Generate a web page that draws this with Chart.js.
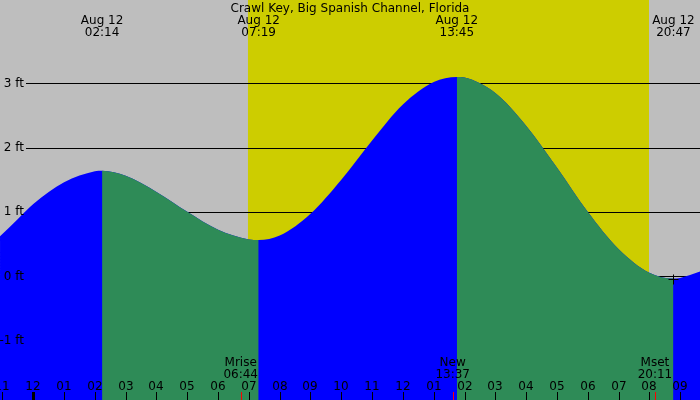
<!DOCTYPE html>
<html>
<head>
<meta charset="utf-8">
<script src="https://cdn.jsdelivr.net/npm/chart.js@4.4.1/dist/chart.umd.min.js"></script>
<style>
  html, body { margin: 0; padding: 0; background: #bebebe; }
  #tide { display: block; }
</style>
</head>
<body>
<canvas id="tide" width="700" height="400"></canvas>
<script>
// tide chart - Crawl Key, Big Spanish Channel, Florida (Aug 12)

const stationName = 'Crawl Key, Big Spanish Channel, Florida';
const dayLabel = 'Aug 12';

// tide level (ft), hours since midnight
const tideHours = [-1.08, -0.5, 0, 1, 2, 2.233, 3, 4, 5, 6, 7, 7.317, 8, 9, 10, 11, 12, 13, 13.75, 14, 15, 16, 17, 18, 19, 20, 20.783, 21, 21.65];
const tideFeet  = [0.62, 0.89, 1.12, 1.46, 1.63, 1.64, 1.56, 1.31, 1.00, 0.72, 0.57, 0.56, 0.63, 0.97, 1.50, 2.11, 2.67, 3.02, 3.10, 3.09, 2.85, 2.34, 1.69, 1.00, 0.42, 0.05, -0.04, -0.03, 0.07];

// highs and lows shown across the top
const extremeHours = [2.233, 7.317, 13.75, 20.783];
const extremeTimes = ['02:14', '07:19', '13:45', '20:47'];
const lowMarkHour = 20.783;
const lowMarkFeet = -0.04;

// daylight band
const sunriseHour = 6.97;
const sunsetHour = 19.99;

// moon events along the bottom
const moonHours = [6.733, 13.617, 20.183];
const moonNames = ['Mrise', 'New', 'Mset'];
const moonTimes = ['06:44', '13:37', '20:11'];

// axis ticks
const hourTicks = [-1, 0, 1, 2, 3, 4, 5, 6, 7, 8, 9, 10, 11, 12, 13, 14, 15, 16, 17, 18, 19, 20, 21];
const hourLabels = ['11', '12', '01', '02', '03', '04', '05', '06', '07', '08', '09', '10', '11', '12', '01', '02', '03', '04', '05', '06', '07', '08', '09'];
const feetTicks = [3, 2, 1, 0, -1];
const feetLabels = ['3 ft', '2 ft', '1 ft', '0 ft', '-1 ft'];

const GRAY = '#bebebe';
const YELLOW = '#cdcd00';
const RISING = '#0000ff';
const FALLING = '#2e8b57';
const NONE = 'rgba(0,0,0,0)';
const FONT = '12px "DejaVu Sans", sans-serif';

const tidePoints = tideHours.map((h, i) => ({ x: h, y: tideFeet[i] }));

// background, daylight and level lines go under the water
const backdrop = {
  id: 'backdrop',
  beforeDraw(chart) {
    const { ctx, chartArea: a, scales: { x } } = chart;
    ctx.save();
    ctx.fillStyle = GRAY;
    ctx.fillRect(0, 0, chart.width, chart.height);
    const x0 = x.getPixelForValue(sunriseHour);
    const x1 = x.getPixelForValue(sunsetHour);
    ctx.fillStyle = YELLOW;
    ctx.fillRect(x0, a.top, x1 - x0, a.bottom - a.top);
    ctx.restore();
  },
  beforeDatasetsDraw(chart) {
    const { ctx, chartArea: a, scales: { y } } = chart;
    ctx.save();
    ctx.strokeStyle = '#000';
    ctx.lineWidth = 1;
    feetTicks.forEach(v => {
      const py = Math.round(y.getPixelForValue(v)) + 0.5;
      ctx.beginPath();
      ctx.moveTo(26, py);
      ctx.lineTo(a.right, py);
      ctx.stroke();
    });
    ctx.restore();
  }
};

// all labels and ticks on top
const labels = {
  id: 'labels',
  afterDatasetsDraw(chart) {
    const { ctx, scales: { x, y } } = chart;
    ctx.save();
    ctx.font = FONT;
    ctx.fillStyle = '#000';
    ctx.textBaseline = 'alphabetic';

    // title
    ctx.textAlign = 'center';
    ctx.fillText(stationName, 350, 12);

    // high / low times
    extremeHours.forEach((h, i) => {
      const px = x.getPixelForValue(h);
      ctx.fillText(dayLabel, px, 24);
      ctx.fillText(extremeTimes[i], px, 36);
    });

    // foot labels
    ctx.textAlign = 'right';
    ctx.textBaseline = 'middle';
    feetTicks.forEach((v, i) => {
      ctx.fillText(feetLabels[i], 24, y.getPixelForValue(v) + 0.5);
    });

    // hour ticks
    ctx.textAlign = 'center';
    ctx.textBaseline = 'alphabetic';
    hourTicks.forEach((h, i) => {
      const px = Math.round(x.getPixelForValue(h));
      ctx.fillRect(h === 0 ? px - 1 : px, 392, h === 0 ? 3 : 1, 8);
      ctx.fillText(hourLabels[i], px, 389.5);
    });

    // moon events
    moonHours.forEach((h, i) => {
      const px = x.getPixelForValue(h);
      ctx.fillStyle = '#ff0000';
      ctx.fillRect(Math.round(px), 392, 1, 8);
      ctx.fillStyle = '#000';
      ctx.fillText(moonNames[i], px, 366);
      ctx.fillText(moonTimes[i], px, 377.5);
    });

    // low water mark
    const mx = Math.round(x.getPixelForValue(lowMarkHour)) + 0.5;
    const my = Math.round(y.getPixelForValue(lowMarkFeet)) + 0.5;
    ctx.strokeStyle = '#000';
    ctx.lineWidth = 1;
    ctx.beginPath();
    ctx.moveTo(mx - 5, my);
    ctx.lineTo(mx + 5, my);
    ctx.moveTo(mx, my - 5);
    ctx.lineTo(mx, my + 5);
    ctx.stroke();
    ctx.restore();
  }
};

const waterStyle = {
  data: tidePoints,
  fill: 'start',
  borderWidth: 0,
  borderColor: NONE,
  pointRadius: 0,
  cubicInterpolationMode: 'monotone'
};

new Chart(document.getElementById('tide'), {
  type: 'line',
  data: {
    datasets: [
      // falling water drawn over a full rising-coloured fill, so no seams
      Object.assign({}, waterStyle, {
        order: 0,
        backgroundColor: FALLING,
        segment: {
          backgroundColor: c => (c.p1.parsed.y < c.p0.parsed.y ? FALLING : NONE)
        }
      }),
      Object.assign({}, waterStyle, { order: 1, backgroundColor: RISING })
    ]
  },
  options: {
    responsive: false,
    animation: false,
    layout: { padding: 0 },
    scales: {
      x: { type: 'linear', min: -1.081, max: 21.646, display: false },
      y: { min: -1.93, max: 4.298, display: false }
    },
    plugins: {
      legend: { display: false },
      tooltip: { enabled: false }
    }
  },
  plugins: [backdrop, labels]
});
</script>
</body>
</html>
